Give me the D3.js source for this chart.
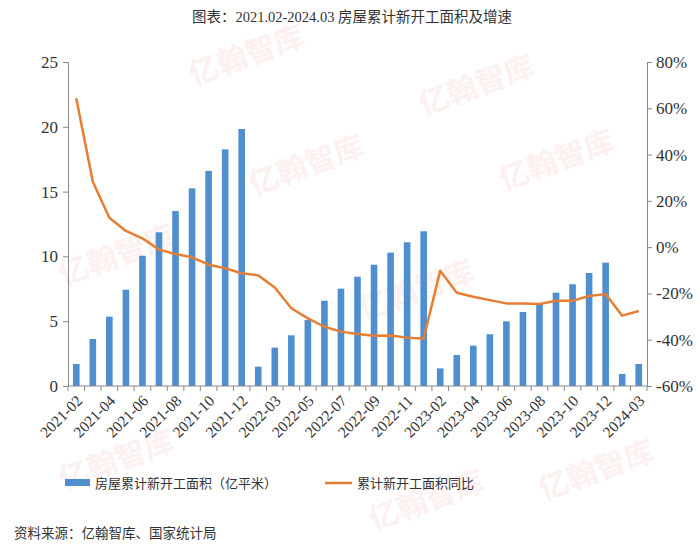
<!DOCTYPE html>
<html>
<head>
<meta charset="utf-8">
<script src="https://cdn.jsdelivr.net/npm/d3@7"></script>
<style>
  body { margin: 0; background: #fff; }
  text { font-family: "Liberation Serif", "Noto Sans CJK SC", serif; fill: #333; }
</style>
</head>
<body>
<svg id="chart" width="700" height="552"></svg>
<script>
// months (Jan+Feb are combined, so each year starts at -02)
const months = [
  "2021-02","2021-03","2021-04","2021-05","2021-06","2021-07","2021-08","2021-09","2021-10","2021-11","2021-12",
  "2022-02","2022-03","2022-04","2022-05","2022-06","2022-07","2022-08","2022-09","2022-10","2022-11","2022-12",
  "2023-02","2023-03","2023-04","2023-05","2023-06","2023-07","2023-08","2023-09","2023-10","2023-11","2023-12",
  "2024-02","2024-03"
];
// cumulative new construction area (100 million m2)
const area = [
  1.70, 3.63, 5.35, 7.43, 10.05, 11.86, 13.50, 15.25, 16.60, 18.26, 19.83,
  1.49, 2.96, 3.91, 5.09, 6.58, 7.51, 8.43, 9.36, 10.29, 11.09, 11.94,
  1.36, 2.39, 3.11, 3.99, 4.99, 5.71, 6.38, 7.20, 7.85, 8.72, 9.52,
  0.93, 1.70
];
// year-on-year growth (%)
const growth = [
  64.3, 28.3, 12.7, 7.0, 3.8, -1.0, -3.0, -4.4, -7.6, -9.1, -11.3,
  -12.2, -17.4, -26.4, -30.8, -34.4, -36.5, -37.5, -38.3, -38.2, -39.1, -39.5,
  -10.2, -19.7, -21.4, -22.9, -24.3, -24.3, -24.6, -23.2, -23.2, -21.1, -20.3,
  -29.6, -27.6
];
const leftTicks = [0, 5, 10, 15, 20, 25];
const rightTicks = [-60, -40, -20, 0, 20, 40, 60, 80];

const svg = d3.select("#chart");
const mLeft = 68, mRight = 647, mTop = 62, mBottom = 386;
const axisColor = "#888";
const barColor = "#4f8fd0";
const lineColor = "#e67e33";

// faint watermarks
const marks = [[250, 65], [480, 95], [310, 175], [560, 170], [120, 265], [420, 300], [120, 470], [430, 510], [600, 480]];
svg.append("g").selectAll("text").data(marks).join("text")
  .attr("transform", d => `translate(${d[0]},${d[1]}) rotate(-20)`)
  .attr("text-anchor", "middle")
  .style("font-family", "Noto Sans CJK SC")
  .style("font-size", "30px")
  .style("font-weight", "bold")
  .style("fill", "#fdf0f0")
  .text("亿翰智库");

const x = d3.scaleBand().domain(months).range([mLeft, mRight]).paddingInner(0.6).paddingOuter(0.3);
const yL = d3.scaleLinear().domain([0, 25]).range([mBottom, mTop]);
const yR = d3.scaleLinear().domain([-60, 80]).range([mBottom, mTop]);

// bars
svg.append("g").selectAll("rect").data(area).join("rect")
  .attr("x", (d, i) => x(months[i]))
  .attr("y", d => yL(d))
  .attr("width", x.bandwidth())
  .attr("height", d => mBottom - yL(d))
  .attr("fill", barColor);

// growth line
const line = d3.line()
  .x((d, i) => x(months[i]) + x.bandwidth() / 2)
  .y(d => yR(d));
svg.append("path")
  .attr("d", line(growth))
  .attr("fill", "none")
  .attr("stroke", lineColor)
  .attr("stroke-width", 2.5)
  .attr("stroke-linejoin", "round");

// axes
const gL = svg.append("g").attr("transform", `translate(${mLeft},0)`)
  .call(d3.axisLeft(yL).tickValues(leftTicks).tickSize(5).tickPadding(5));
const gR = svg.append("g").attr("transform", `translate(${mRight},0)`)
  .call(d3.axisRight(yR).tickValues(rightTicks).tickSize(5).tickPadding(4).tickFormat(d => d + "%"));
[gL, gR].forEach(g => {
  g.select(".domain").attr("stroke", axisColor);
  g.selectAll(".tick line").attr("stroke", axisColor);
  g.selectAll(".tick text").style("font-size", "17px").style("fill", "#333")
    .style("font-family", "Liberation Serif");
});

// x axis: ticks at band boundaries
const bounds = d3.range(months.length + 1).map(i => mLeft + i * (mRight - mLeft) / months.length);
const gX = svg.append("g");
gX.append("line").attr("x1", mLeft).attr("x2", mRight).attr("y1", mBottom).attr("y2", mBottom).attr("stroke", axisColor);
gX.selectAll("line.t").data(bounds).join("line").attr("class", "t")
  .attr("x1", d => d).attr("x2", d => d).attr("y1", mBottom).attr("y2", mBottom + 5)
  .attr("stroke", axisColor);
gX.selectAll("text").data(months.filter((m, i) => i % 2 === 0)).join("text")
  .attr("transform", d => `translate(${x(d) + x.bandwidth() / 2 + 3},${mBottom + 12}) rotate(-45)`)
  .attr("text-anchor", "end")
  .attr("dy", "0.35em")
  .style("font-size", "15.5px")
  .text(d => d);

// title
svg.append("text")
  .attr("x", 352).attr("y", 22)
  .attr("text-anchor", "middle")
  .style("font-size", "14.5px")
  .text("图表：2021.02-2024.03 房屋累计新开工面积及增速");

// legend
const lg = svg.append("g");
lg.append("rect").attr("x", 65).attr("y", 479).attr("width", 25).attr("height", 7).attr("fill", barColor);
lg.append("text").attr("x", 95).attr("y", 483).attr("dy", "0.35em").style("font-size", "13px")
  .text("房屋累计新开工面积（亿平米）");
lg.append("line").attr("x1", 325).attr("x2", 352).attr("y1", 483).attr("y2", 483)
  .attr("stroke", lineColor).attr("stroke-width", 2.5);
lg.append("text").attr("x", 357).attr("y", 483).attr("dy", "0.35em").style("font-size", "13px")
  .text("累计新开工面积同比");

// source
svg.append("text").attr("x", 14).attr("y", 533).attr("dy", "0.35em").style("font-size", "13.5px")
  .text("资料来源：亿翰智库、国家统计局");
</script>
</body>
</html>
